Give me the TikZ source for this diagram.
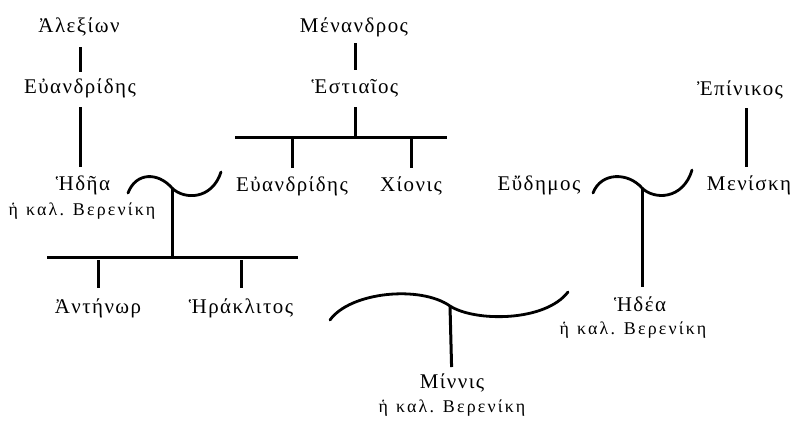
\documentclass[tikz,border=0pt]{standalone}
\usepackage{fontspec}
\setmainfont{Liberation Serif}[LetterSpace=7]
\newfontfamily\epithetfont{Liberation Serif}[LetterSpace=12]
\newcommand{\kalBer}{ἡ\hspace{0.45em}καλ.\hspace{0.5em}Βερενίκη}
\begin{document}
\begin{tikzpicture}[x=1bp,y=-1bp,
  person/.style={inner sep=0pt, font=\fontsize{21}{23}\selectfont},
  epithet/.style={inner sep=0pt, font=\epithetfont\fontsize{18}{20}\selectfont},
  link/.style={line width=3bp},
  bond/.style={line width=2.8bp, line cap=round}]
\useasboundingbox (0,0) rectangle (797,423);

% --- persons ---
\node[person] (alex)   at (79,27)   {Ἀλεξίων};
\node[person] (euanA)  at (80,88)   {Εὐανδρίδης};
\node[person] (hedeaA) at (83,185)  {Ἡδῆα};
\node[epithet] (hedeaAx) at (82,211) {\kalBer};
\node[person] (menan)  at (354,27)  {Μένανδρος};
\node[person] (hest)   at (355,88)  {Ἑστιαῖος};
\node[person] (euanB)  at (292,186) {Εὐανδρίδης};
\node[person] (chion)  at (411,186) {Χίονις};
\node[person] (epin)   at (740,90)  {Ἐπίνικος};
\node[person] (eudem)  at (539,185) {Εὔδημος};
\node[person] (menis)  at (749,185) {Μενίσκη};
\node[person] (anten)  at (98,308)  {Ἀντήνωρ};
\node[person] (herak)  at (241,308) {Ἡράκλιτος};
\node[person] (hedeaB) at (640,304) {Ἡδέα};
\node[epithet] (hedeaBx) at (633,330) {\kalBer};
\node[person] (minnis) at (452,383) {Μίννις};
\node[epithet] (minnisx) at (452,408) {\kalBer};

% --- bars and junction points ---
\coordinate (barAL) at (47,257);
\coordinate (barAR) at (298,257);
\coordinate (barBL) at (235,137);
\coordinate (barBR) at (447,137);
\coordinate (bondA) at (172,188);
\coordinate (bondB) at (642,188);
\coordinate (bondC) at (450,306);

% --- descent lines ---
\draw[link, shorten <=20bp, shorten >=16bp] (alex.center -| euanA.center) -- (euanA.center);
\draw[link, shorten <=19bp, shorten >=18bp] (euanA.center) -- (euanA.center |- hedeaA.center);
\draw[link, shorten <=16bp, shorten >=18bp] (menan.center -| hest.center) -- (hest.center);
\draw[link, shorten <=19bp] (hest.center) -- (hest.center |- barBL);
\draw[link] (barBL) -- (barBR);
\draw[link, shorten >=18bp] (barBL -| euanB.center) -- (euanB.center);
\draw[link, shorten >=18bp] (barBL -| chion.center) -- (chion.center);
\draw[link, shorten <=18bp, shorten >=18bp] (epin.center -| 746,0) -- (menis.center -| 746,0);

\draw[link] (bondA) -- (bondA |- barAL);
\draw[link] (barAL) -- (barAR);
\draw[link, shorten <=3bp, shorten >=20bp] (barAL -| anten.center) -- (anten.center);
\draw[link, shorten <=3bp, shorten >=20bp] (barAL -| herak.center) -- (herak.center);

\draw[link, shorten >=17bp] (bondB) -- (bondB |- hedeaB.center);
\draw[link, shorten >=16bp] (bondC) -- (minnis.center);

% --- marriage bonds ---
\draw[bond] (128,193) .. controls (136,172) and (158,172) .. (bondA)
                      .. controls (184,200) and (212,200) .. (221,172);
\draw[bond] (593,193) .. controls (601,172) and (628,172) .. (bondB)
                      .. controls (654,200) and (683,200) .. (692,170);
\draw[bond] (330,320) .. controls (350,292) and (420,285) .. (bondC)
                      .. controls (475,322) and (545,322) .. (568,292);
\end{tikzpicture}
\end{document}
